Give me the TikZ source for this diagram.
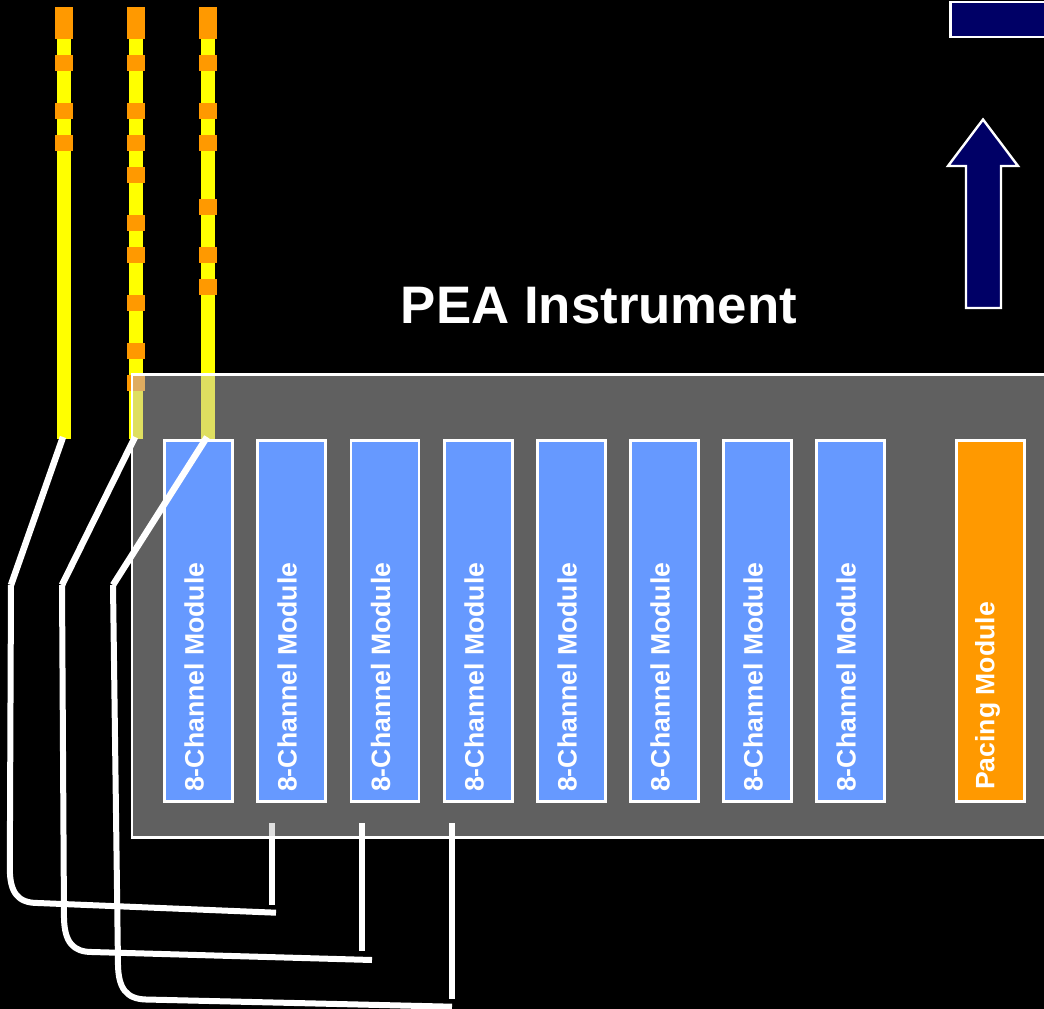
\documentclass[tikz,border=0pt]{standalone}
\usepackage{fontspec}
\setmainfont{Liberation Sans}
\definecolor{modblue}{HTML}{6699FF}
\definecolor{pace}{HTML}{FF9900}
\definecolor{navy}{HTML}{000066}
\definecolor{ylw}{HTML}{FFFF00}
\definecolor{panelc}{HTML}{C0C0C0}
\tikzset{
  modbox/.style={draw=white,line width=2.8pt,minimum width=68pt,minimum height=361pt,inner sep=0pt,outer sep=0pt},
  modtext/.style={text=white,font=\bfseries\fontsize{26.6}{26.6}\selectfont,rotate=90,anchor=west,inner sep=0pt},
  wire/.style={draw=white,line width=6pt},
  slant/.style={draw=white,line width=6.5pt},
  stub/.style={draw=white,line width=6pt},
}
\newcommand{\pegset}[2]{\foreach \ya/\yb in {#2}{\fill[pace] (#1-9,\ya) rectangle (#1+9,\yb);}}
\begin{document}
\begin{tikzpicture}[x=1pt,y=-1pt]
\useasboundingbox (0,0) rectangle (1044,1009);
\clip (0,0) rectangle (1044,1009);
\fill[black] (0,0) rectangle (1044,1009);
% top bar and arrow
\node[draw=white,line width=2.4pt,fill=navy,minimum width=120pt,minimum height=35pt,inner sep=0pt,outer sep=0pt,anchor=north west] (bar) at (950.5,2) {};
\draw[white,line width=2.4pt,fill=navy,line join=miter] (983,119.5) -- (1018,166) -- (1001,166) -- (1001,308) -- (966,308) -- (966,166) -- (948,166) -- cycle;
% yellow strips
\foreach \xx in {64,136,208}{\fill[ylw] (\xx-6.7,7) rectangle (\xx+6.7,439);}
\pegset{64}{7/39,55/71,103/119,135/151}
\pegset{136}{7/39,55/71,103/119,135/151,167/183,215/231,247/263,295/311,343/359,375/391}
\pegset{208}{7/39,55/71,103/119,135/151,199/215,247/263,279/295}
% first stub lies under the panel
\coordinate (s1a) at (272,823); \coordinate (s1b) at (272,905);
\draw[stub] (s1a) -- (s1b);
% panel
\node[fill=panelc,fill opacity=.5,minimum width=1000pt,minimum height=463pt,inner sep=0pt,outer sep=0pt,anchor=north west] (panel) at (132,374.5) {};
\draw[white,line width=2.6pt] (1060,374.5) -- (132,374.5) -- (132,837.5) -- (1060,837.5);
% modules
\foreach \i/\xx in {1/198.5,2/291.5,3/385,4/478.5,5/571.5,6/664.5,7/757.5,8/850.5}{
  \node[modbox,fill=modblue] (m\i) at (\xx,621) {};
  \node[modtext] (t\i) at (\xx-4.5,792) {8-Channel Module};
}
\node[modbox,fill=pace] (pm) at (990.5,621) {};
\node[modtext] (tp) at (987.5,790) {Pacing Module};
\node[text=white,font=\bfseries\fontsize{52.8}{52.8}\selectfont,inner sep=0pt] (title) at (599,306) {PEA Instrument};
% wires
\coordinate (a0) at (63,437); \coordinate (a1) at (11,585); \coordinate (a2) at (276,912.7);
\coordinate (b0) at (135,437); \coordinate (b1) at (62,585); \coordinate (b2) at (372,960);
\coordinate (c0) at (207,437); \coordinate (c1) at (113,585); \coordinate (c2) at (452,1006.7);
\draw[slant] (a0) -- (a1);
\draw[slant] (b0) -- (b1);
\draw[slant] (c0) -- (c1);
\draw[wire] (a1) -- (9.8,868) .. controls (9.8,893) and (18,903) .. (38,903) -- (a2);
\draw[wire] (b1) -- (64,918) .. controls (64.5,942) and (73,952) .. (92,952) -- (b2);
\draw[wire] (c1) -- (118,965) .. controls (118.5,988) and (126,999) .. (146,999.5) -- (c2);
\coordinate (s2a) at (362,823); \coordinate (s2b) at (362,951);
\coordinate (s3a) at (452,823); \coordinate (s3b) at (452,999);
\draw[stub] (s2a) -- (s2b);
\draw[stub] (s3a) -- (s3b);
\end{tikzpicture}
\end{document}
